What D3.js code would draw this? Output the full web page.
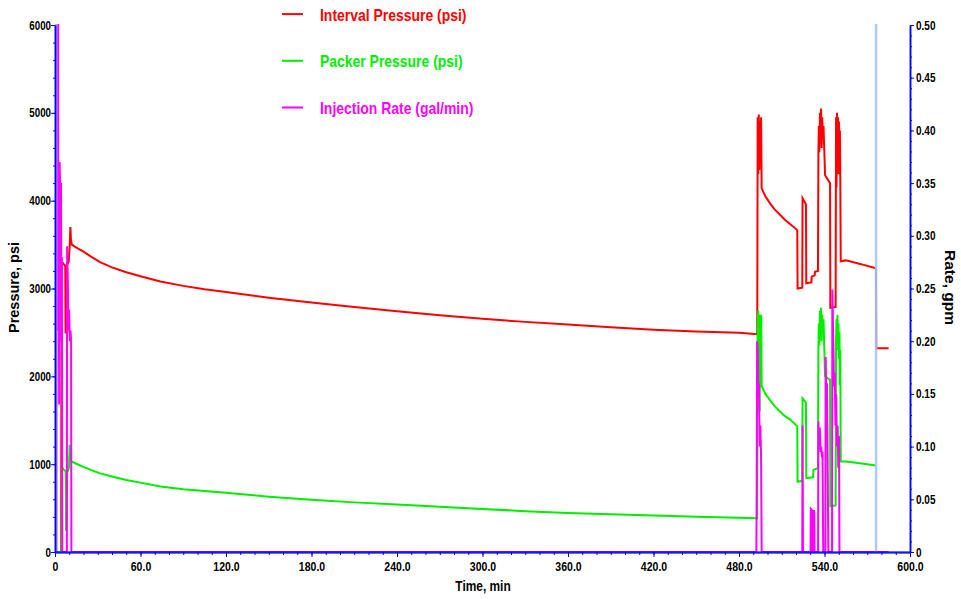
<!DOCTYPE html>
<html>
<head>
<meta charset="utf-8">
<script src="https://cdn.jsdelivr.net/npm/d3@7"></script>
<style>
  body { margin: 0; background: #fff; }
  text { font-family: "Liberation Sans", Arial, sans-serif; font-weight: bold; }
</style>
</head>
<body>
<script>
// ---- data ----
// [time min, psi]
var intervalPressure = [
  [0,0],[4.3,0],[4.6,3300],[5.5,3290],[6.5,3270],[7.2,3260],[7.4,2500],[8.2,2500],[8.4,3270],
  [9.6,3300],[10.2,3450],[10.8,3700],[11.2,3560],[11.8,3500],[15,3465],[20,3420],[25,3365],[31.6,3300],
  [40,3240],[50,3185],[60,3140],[74,3080],[90,3030],[105,2992],[120,2960],[150,2895],[180,2840],
  [210,2790],[240,2740],[270,2695],[300,2655],[330,2620],[360,2590],[390,2560],[420,2530],[450,2510],
  [480,2495],[492.8,2480],
  [493.1,4950],[493.5,4300],[493.9,4980],[494.3,4350],[494.7,4900],[495.1,4500],[495.5,4950],[495.9,4140],
  [498.5,4050],[501.8,3970],[505,3900],[508.8,3840],[512,3785],[515.8,3735],[520.9,3665],
  [521.1,3000],[524.4,3010],[524.6,4030],[527,3960],[527.2,3060],[530.8,3070],[531,3135],[533.1,3150],
  [533.3,3190],[535.4,3200],
  [535.7,4500],[536,4850],[536.4,4550],[536.8,5000],[537.2,4650],[537.6,5050],[538,4600],[538.4,4950],
  [538.8,4700],[539.3,4850],[540.4,4290],[543.9,4200],[544.1,2780],[547.8,2790],
  [548.1,4950],[548.4,4150],[548.8,5000],[549.1,4300],[549.5,4950],[549.8,4500],[550.2,4900],[550.5,4300],
  [550.8,4800],[551.1,4200],[551.4,3310],[555,3320],[565,3280],[576.1,3230],[576.3,2320],[585,2320]
];
// [time min, psi]
var packerPressure = [
  [0,0],[4.5,0],[4.7,400],[4.9,970],[6,940],[7.5,920],[7.8,250],[8.2,250],[8.6,900],[9.8,960],
  [10.3,1220],[10.8,1050],[11.5,1030],[15,1005],[20,970],[25,935],[31.6,895],[40,860],[50,820],
  [60,790],[74,745],[90,715],[105,695],[120,675],[150,630],[180,595],[210,565],[240,540],[270,515],
  [300,490],[330,465],[360,445],[390,430],[420,415],[450,400],[480,390],[492.8,385],
  [493.1,2600],[493.5,2750],[493.9,2400],[494.2,2700],[494.5,1600],[494.8,2650],[495.2,2500],[495.6,2700],
  [495.9,1890],[498.5,1800],[501.8,1730],[505,1660],[508.8,1600],[512,1550],[515.8,1510],[520.9,1430],
  [521.1,800],[524.4,810],[524.6,1750],[527,1700],[527.2,840],[532,850],[532.2,935],[535.4,955],
  [535.7,2300],[536,2600],[536.4,2350],[536.8,2750],[537.2,2450],[537.6,2780],[538,2400],[538.4,2700],
  [538.8,2500],[539.3,2650],[540.4,2000],[543.9,1960],[544.1,520],[547.8,530],
  [548.1,2400],[548.4,2650],[548.8,2300],[549.1,2700],[549.5,2350],[549.8,2600],[550.2,2200],[550.5,2500],
  [550.8,1900],[551.1,2300],[551.4,1030],[555,1030],[565,1010],[576.1,985]
];
// [time min, gal/min]
var injectionRate = [
  [0,0],[1.0,0],[1.1,0.5],[2.2,0.5],[2.3,0.21],[2.6,0.36],[2.9,0.14],[3.2,0.37],[3.6,0.35],[3.9,0.31],
  [4.2,0.35],[4.5,0.2],[4.8,0.28],[5.1,0],[8.3,0],[8.5,0.29],[9,0.26],[9.4,0.21],[9.9,0.23],[10.4,0.2],
  [10.9,0.21],[11.3,0.2],[11.5,0],
  [492.2,0],[492.4,0.055],[492.7,0.2],[493.2,0.19],[493.6,0.147],[494,0.16],[494.5,0.1],[495,0.12],
  [495.5,0.09],[495.9,0],
  [524.4,0],[524.6,0.12],[524.9,0],[530.2,0],[530.4,0.041],[531,0.04],[531.2,0],[532.2,0],[532.4,0.039],
  [532.8,0.039],[533,0],
  [535.5,0],[535.7,0.124],[536.2,0.1],[536.7,0.118],[537.2,0.095],[537.7,0.1],[538.2,0.09],[538.6,0.095],
  [539.1,0],[540.6,0],[540.8,0.185],[541.3,0.15],[541.8,0.16],[542.3,0.071],[542.7,0],[545.3,0],
  [545.5,0.249],[546.2,0.2],[546.7,0.157],[547.2,0.17],[547.7,0.12],[548.2,0.15],[548.7,0.1],[549.2,0.12],
  [549.7,0.08],[550.2,0.11],[550.5,0],[585,0]
];

var markerTimes = [0.8, 576.2];     // light blue event lines
var timeTicks = d3.range(0, 601, 60);
var pressureTicks = d3.range(0, 6001, 1000);
var rateTicks = d3.range(0, 11).map(function(i){ return i*0.05; });
var seriesNames = ["Interval Pressure (psi)", "Packer Pressure (psi)", "Injection Rate (gal/min)"];
var seriesColors = ["#ff0000", "#00ee00", "#ff00ff"];

// ---- layout ----
// (don't call these top/left: window.top is read-only)
var width = 961, height = 599;
var plotL = 55, plotR = 910, plotT = 25, plotB = 552;

var svg = d3.select("body").append("svg")
    .attr("width", width).attr("height", height);

var x = d3.scaleLinear().domain([0, 600]).range([plotL, plotR]);
var yP = d3.scaleLinear().domain([0, 6000]).range([plotB, plotT]);
var yR = d3.scaleLinear().domain([0, 0.5]).range([plotB, plotT]);

svg.append("clipPath").attr("id", "plot")
  .append("rect").attr("x", plotL).attr("y", plotT - 1)
  .attr("width", plotR - plotL).attr("height", plotB - plotT + 1);

// squeeze bold text so it looks like the narrow font of the original
function narrow(sel, k){
    sel.each(function(){
	var w = this.getComputedTextLength();
	d3.select(this).attr("textLength", w*k).attr("lengthAdjust", "spacingAndGlyphs");
    });
}

// ---- lines ----
var plot = svg.append("g").attr("clip-path", "url(#plot)");

var lineP = d3.line().x(function(d){ return x(d[0]); }).y(function(d){ return yP(d[1]); });
var lineR = d3.line().x(function(d){ return x(d[0]); }).y(function(d){ return yR(d[1]); });

plot.append("path").datum(intervalPressure).attr("d", lineP)
    .attr("fill", "none").attr("stroke", seriesColors[0]).attr("stroke-width", 2);
plot.append("path").datum(packerPressure).attr("d", lineP)
    .attr("fill", "none").attr("stroke", seriesColors[1]).attr("stroke-width", 2);
plot.append("path").datum(injectionRate).attr("d", lineR)
    .attr("fill", "none").attr("stroke", seriesColors[2]).attr("stroke-width", 2);

// event markers
svg.selectAll(".marker").data(markerTimes).enter().append("line")
    .attr("class", "marker")
    .attr("x1", function(d){ return x(d); }).attr("x2", function(d){ return x(d); })
    .attr("y1", plotT - 1).attr("y2", plotB)
    .attr("stroke", "#a4c6ee").attr("stroke-width", 2.5).attr("opacity", 0.9);

// ---- axes ----
function styleAxis(g, w){
    g.select(".domain").attr("stroke", "#0000ff").attr("stroke-width", w);
    g.selectAll(".tick line").attr("stroke", "#0000ff");
    g.selectAll(".tick text").attr("fill", "#000").style("font-size", "12.5px").attr("font-family", null);
}

// left
svg.append("g").attr("transform", "translate(" + plotL + ",0)")
    .call(d3.axisLeft(yP).tickValues(d3.range(0, 6001, 200)).tickSize(2).tickSizeOuter(0).tickFormat(""))
    .call(function(g){ styleAxis(g, 1.5); });
var gl = svg.append("g").attr("transform", "translate(" + plotL + ",0)")
    .call(d3.axisLeft(yP).tickValues(pressureTicks).tickSize(4).tickSizeOuter(0).tickPadding(0)
	  .tickFormat(function(d){ return d; }))
    .call(function(g){ styleAxis(g, 1.5); });
narrow(gl.selectAll(".tick text"), 0.78);

// right
svg.append("g").attr("transform", "translate(" + plotR + ",0)")
    .call(d3.axisRight(yR).tickValues(d3.range(0, 51).map(function(i){ return i/100; }))
	  .tickSize(2).tickSizeOuter(0).tickFormat(""))
    .call(function(g){ styleAxis(g, 1.5); });
var gr = svg.append("g").attr("transform", "translate(" + plotR + ",0)")
    .call(d3.axisRight(yR).tickValues(rateTicks).tickSize(4).tickSizeOuter(0).tickPadding(2)
	  .tickFormat(function(d){ return d === 0 ? "0" : d.toFixed(2); }))
    .call(function(g){ styleAxis(g, 1.5); });
narrow(gr.selectAll(".tick text"), 0.8);

// bottom (drawn over the rate line, which lies on it)
svg.append("g").attr("transform", "translate(0," + plotB + ")")
    .call(d3.axisBottom(x).tickValues(d3.range(0, 601, 10)).tickSize(3).tickSizeOuter(0).tickFormat(""))
    .call(function(g){ styleAxis(g, 2); g.select(".domain").attr("stroke-opacity", 0.7); });
var gb = svg.append("g").attr("transform", "translate(0," + plotB + ")")
    .call(d3.axisBottom(x).tickValues(timeTicks).tickSize(5).tickSizeOuter(0).tickPadding(5)
	  .tickFormat(function(d){ return d === 0 ? "0" : d.toFixed(1); }))
    .call(function(g){ styleAxis(g, 2); g.select(".domain").attr("stroke-opacity", 0.7); });
narrow(gb.selectAll(".tick text"), 0.84);

// ---- axis titles ----
svg.append("text").attr("transform", "translate(18.5,287.5) rotate(-90)")
    .attr("text-anchor", "middle").style("font-size", "14.5px").text("Pressure, psi");
svg.append("text").attr("transform", "translate(945,287.5) rotate(90)")
    .attr("text-anchor", "middle").style("font-size", "15.5px").text("Rate, gpm");
var tt = svg.append("text").attr("x", 483).attr("y", 591)
    .attr("text-anchor", "middle").style("font-size", "14px").text("Time, min");
narrow(tt, 0.85);

// ---- legend ----
var legend = svg.selectAll(".legend").data(seriesNames).enter().append("g")
    .attr("class", "legend")
    .attr("transform", function(d, i){ return "translate(0," + (20.6 + i*46.7) + ")"; });
legend.append("line").attr("x1", 282).attr("x2", 303).attr("y1", -6.5).attr("y2", -6.5)
    .attr("stroke", function(d, i){ return seriesColors[i]; }).attr("stroke-width", 2);
legend.append("text").attr("x", 320).attr("y", 0).style("font-size", "17px")
    .attr("fill", function(d, i){ return seriesColors[i]; }).text(function(d){ return d; });
narrow(legend.selectAll("text"), 0.82);
</script>
</body>
</html>
